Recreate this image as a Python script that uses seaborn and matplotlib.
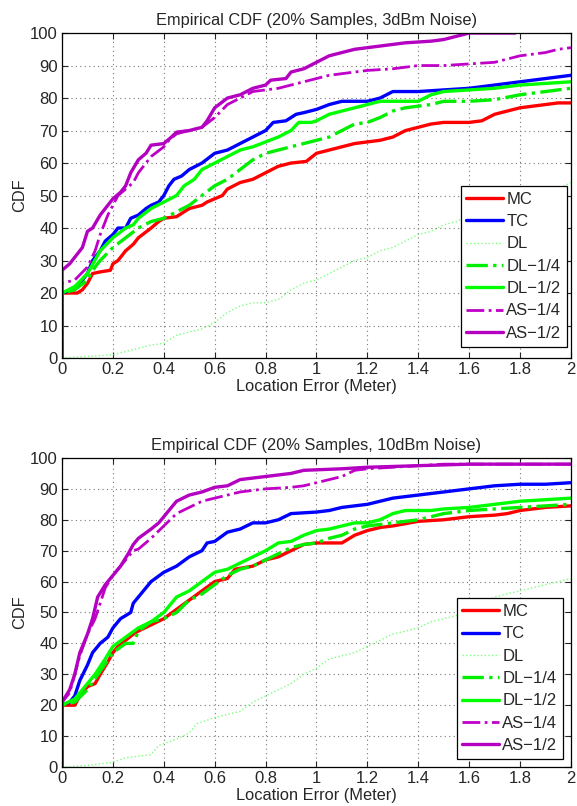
import matplotlib
matplotlib.use('agg')
import matplotlib.pyplot as plt
import seaborn as sns
import pandas as pd

# ---- data (x = location error in m, y = CDF %) ----
labels = ['MC', 'TC', 'DL', 'DL\u22121/4', 'DL\u22121/2', 'AS\u22121/4', 'AS\u22121/2']

# 3 dBm noise
mc_3_x = [0, 0, 0.06, 0.08, 0.1, 0.12, 0.15, 0.19, 0.2, 0.22, 0.25, 0.28, 0.3, 0.35, 0.38, 0.4, 0.45, 0.48, 0.5, 0.55, 0.57, 0.6, 0.63, 0.65, 0.7, 0.75, 0.8, 0.85, 0.9, 0.96, 1.0, 1.05, 1.1, 1.15, 1.2, 1.25, 1.3, 1.35, 1.4, 1.45, 1.5, 1.6, 1.65, 1.7, 1.75, 1.8, 1.85, 1.9, 1.95, 2.0]
mc_3_y = [0, 20, 20, 21, 23, 26, 26.5, 27, 29, 30, 33, 35, 37, 40, 42, 43, 43.5, 45, 46, 47, 48, 49, 50, 52, 54, 55, 57, 59, 60, 60.5, 63, 64, 65, 66, 66.5, 67, 68, 70, 71, 72, 72.5, 72.5, 73, 75, 76, 77, 77.5, 78, 78.5, 78.5]
tc_3_x = [0, 0, 0.04, 0.06, 0.1, 0.12, 0.15, 0.17, 0.2, 0.22, 0.25, 0.27, 0.3, 0.33, 0.35, 0.38, 0.4, 0.42, 0.44, 0.47, 0.5, 0.55, 0.6, 0.65, 0.7, 0.75, 0.8, 0.83, 0.88, 0.92, 0.95, 1.0, 1.05, 1.1, 1.2, 1.25, 1.3, 1.4, 1.5, 1.6, 1.7, 1.8, 1.9, 2.0]
tc_3_y = [0, 20, 21, 22, 26, 30, 33, 36, 38, 40, 40, 43, 44, 46, 47, 48, 50, 53, 55, 56, 58, 60, 63, 64, 66, 68, 70, 72.5, 73, 75, 75.5, 76.5, 78, 79, 79, 80, 82, 82, 82.5, 83, 84, 85, 86, 87]
dl_3_x = [0, 0.1, 0.2, 0.25, 0.3, 0.35, 0.4, 0.45, 0.5, 0.55, 0.6, 0.65, 0.7, 0.75, 0.8, 0.85, 0.9, 0.95, 1.0, 1.05, 1.1, 1.15, 1.2, 1.25, 1.3, 1.35, 1.4, 1.45, 1.5, 1.55, 1.6, 1.65, 1.7, 1.8, 1.9, 1.95, 2.0]
dl_3_y = [0, 0.5, 1, 2, 3, 4, 4.5, 7, 8, 9, 11, 14, 16, 17, 17, 18, 21, 23, 24, 26, 28, 30, 31, 33, 34, 36, 38, 39, 41, 42, 44, 45, 47, 49, 51, 52, 54]
dl4_3_x = [0, 0, 0.05, 0.1, 0.12, 0.15, 0.2, 0.25, 0.3, 0.35, 0.4, 0.45, 0.5, 0.55, 0.6, 0.65, 0.7, 0.75, 0.8, 0.85, 0.9, 0.95, 1.0, 1.05, 1.1, 1.15, 1.2, 1.25, 1.3, 1.35, 1.4, 1.45, 1.5, 1.6, 1.7, 1.8, 1.9, 2.0]
dl4_3_y = [0, 20, 21, 24, 27, 30, 34, 37, 40, 42, 43, 45, 47, 50, 53, 55, 58, 61, 63, 64, 65, 66, 67, 68, 70, 72, 72.5, 74, 76, 77, 77.5, 78, 79, 79, 79.5, 81, 82, 83]
dl2_3_x = [0, 0, 0.05, 0.1, 0.15, 0.2, 0.25, 0.28, 0.3, 0.35, 0.4, 0.45, 0.48, 0.52, 0.55, 0.6, 0.65, 0.7, 0.75, 0.8, 0.85, 0.9, 0.93, 0.98, 1.0, 1.05, 1.1, 1.15, 1.2, 1.25, 1.3, 1.4, 1.45, 1.5, 1.6, 1.7, 1.8, 1.9, 2.0]
dl2_3_y = [0, 20, 22, 26, 33, 37, 40, 41, 43, 46, 48, 50, 53, 55, 58, 60, 62, 64, 65, 66.5, 68, 70, 72.5, 72.5, 73, 75, 76, 77, 78, 79, 79, 79, 81, 82, 82.5, 83, 84, 84.5, 85]
as4_3_x = [0, 0, 0.05, 0.1, 0.13, 0.15, 0.18, 0.2, 0.22, 0.25, 0.28, 0.3, 0.33, 0.35, 0.4, 0.42, 0.45, 0.5, 0.55, 0.6, 0.65, 0.7, 0.75, 0.8, 0.85, 0.9, 0.95, 1.0, 1.05, 1.1, 1.15, 1.2, 1.3, 1.4, 1.5, 1.6, 1.7, 1.75, 1.8, 1.9, 1.95, 2.0]
as4_3_y = [0, 23, 24, 28, 33, 38, 44, 47, 50, 52, 54, 57, 60, 62, 65, 67, 69, 70, 71, 74, 78, 80, 82, 82.5, 83, 84, 85, 86, 87, 87.5, 88, 88.5, 89, 90, 90, 90.5, 91, 92, 93, 94, 95, 95.5]
as2_3_x = [0, 0, 0.03, 0.05, 0.08, 0.1, 0.12, 0.15, 0.18, 0.2, 0.23, 0.25, 0.27, 0.3, 0.33, 0.35, 0.4, 0.43, 0.45, 0.5, 0.55, 0.57, 0.6, 0.65, 0.7, 0.75, 0.8, 0.82, 0.88, 0.9, 0.95, 1.0, 1.05, 1.1, 1.15, 1.2, 1.25, 1.3, 1.35, 1.45, 1.5, 1.55, 1.6, 1.78]
as2_3_y = [0, 27, 29, 31, 34, 39, 40, 44, 47, 49, 51, 53, 57, 61, 63, 65.5, 66, 68, 69.5, 70, 71, 73, 77, 80, 81, 83, 84, 85.5, 86, 88, 89, 91, 93, 94, 95, 95.5, 96, 96.5, 97, 97.5, 98, 99, 100, 100]

# 10 dBm noise
mc_10_x = [0, 0, 0.05, 0.07, 0.1, 0.13, 0.15, 0.18, 0.2, 0.22, 0.25, 0.28, 0.3, 0.35, 0.4, 0.45, 0.5, 0.55, 0.6, 0.65, 0.68, 0.75, 0.8, 0.85, 0.9, 0.95, 1.0, 1.1, 1.15, 1.2, 1.25, 1.3, 1.4, 1.5, 1.6, 1.7, 1.75, 1.8, 1.9, 2.0]
mc_10_y = [0, 20, 20, 23, 26, 27, 30, 34, 37, 39, 41, 43, 44, 46, 48, 51, 54, 57, 60, 61, 64, 65, 67, 68, 70, 72, 72.5, 72.5, 75, 76.5, 77.5, 78, 79.5, 80, 81, 81.5, 82, 83, 84, 84.5]
tc_10_x = [0, 0, 0.03, 0.05, 0.07, 0.1, 0.12, 0.15, 0.18, 0.2, 0.23, 0.27, 0.28, 0.3, 0.33, 0.35, 0.4, 0.45, 0.5, 0.55, 0.57, 0.6, 0.65, 0.7, 0.75, 0.8, 0.85, 0.9, 1.0, 1.05, 1.1, 1.2, 1.25, 1.3, 1.4, 1.5, 1.6, 1.7, 1.8, 1.9, 2.0]
tc_10_y = [0, 20, 21, 23, 28, 33, 37, 40, 42, 45, 48, 50, 53, 55, 58, 60, 63, 65, 68, 70, 72.5, 73, 76, 77, 79, 79, 80, 82, 82.5, 83, 84, 85, 86, 87, 88, 89, 90, 91, 91.5, 91.5, 92]
dl_10_x = [0, 0.1, 0.2, 0.25, 0.3, 0.35, 0.38, 0.45, 0.5, 0.53, 0.6, 0.65, 0.7, 0.75, 0.8, 0.85, 0.9, 0.95, 1.0, 1.05, 1.1, 1.15, 1.2, 1.25, 1.3, 1.35, 1.4, 1.45, 1.5, 1.6, 1.7, 1.8, 1.9, 2.0]
dl_10_y = [0, 0.5, 1.5, 3, 3.5, 4, 7, 9, 11, 14, 16, 17, 18, 21, 23, 25, 27, 30, 32, 35, 36, 37, 39, 41, 43, 44, 45, 47, 48, 50, 55, 57, 59, 61]
dl4_10_x = [0, 0, 0.05, 0.1, 0.15, 0.2, 0.25, 0.28, 0.3, 0.35, 0.4, 0.45, 0.5, 0.55, 0.6, 0.65, 0.7, 0.75, 0.8, 0.85, 0.9, 0.95, 1.0, 1.05, 1.1, 1.15, 1.2, 1.25, 1.3, 1.4, 1.5, 1.6, 1.7, 1.8, 1.9, 2.0]
dl4_10_y = [0, 20, 21, 25, 31, 37, 40, 40, 44, 47, 48, 50, 54, 56, 59, 62, 64, 65, 67, 69, 71, 72, 72.5, 74, 75, 77, 78, 78.5, 79, 80, 82, 83, 83.5, 84, 84.5, 85]
dl2_10_x = [0, 0, 0.05, 0.1, 0.13, 0.17, 0.2, 0.25, 0.3, 0.35, 0.4, 0.43, 0.45, 0.5, 0.55, 0.6, 0.65, 0.7, 0.75, 0.8, 0.85, 0.9, 0.95, 1.0, 1.05, 1.1, 1.15, 1.2, 1.25, 1.3, 1.35, 1.45, 1.5, 1.6, 1.7, 1.8, 1.9, 2.0]
dl2_10_y = [0, 20, 22, 27, 30, 35, 39, 42, 45, 47, 50, 53, 55, 57, 60, 63, 64, 66, 68, 70, 72.5, 73, 75, 76.5, 77, 78, 79, 79, 80, 82, 83, 83, 83.5, 84, 85, 86, 86.5, 87]
as4_10_x = [0, 0, 0.03, 0.05, 0.07, 0.1, 0.13, 0.15, 0.17, 0.2, 0.25, 0.28, 0.3, 0.35, 0.4, 0.45, 0.5, 0.55, 0.6, 0.65, 0.7, 0.75, 0.8, 0.9, 0.95, 1.0, 1.05, 1.1, 1.15, 1.2, 1.3, 1.4, 1.5, 2.0]
as4_10_y = [0, 21, 24, 30, 36, 43, 48, 53, 58, 62, 67, 70, 70.5, 74, 78, 82, 84, 86, 87, 88, 89, 89.5, 90, 90.5, 91, 92, 93, 94, 96, 96.5, 97, 97.5, 98, 98]
as2_10_x = [0, 0, 0.03, 0.05, 0.07, 0.1, 0.12, 0.14, 0.17, 0.2, 0.23, 0.26, 0.28, 0.3, 0.35, 0.38, 0.4, 0.43, 0.45, 0.5, 0.55, 0.6, 0.65, 0.7, 0.8, 0.9, 0.95, 1.1, 1.2, 1.4, 1.6, 2.0]
as2_10_y = [0, 21, 25, 30, 37, 43, 48, 55, 59, 62, 65, 69, 72, 74, 77, 79, 81, 84, 86, 88, 89, 90.5, 91, 93, 94, 95, 96, 96.5, 97, 97.5, 98, 98]

panels = [
    ('Empirical CDF (20% Samples, 3dBm Noise)',
     [(mc_3_x, mc_3_y), (tc_3_x, tc_3_y), (dl_3_x, dl_3_y), (dl4_3_x, dl4_3_y),
      (dl2_3_x, dl2_3_y), (as4_3_x, as4_3_y), (as2_3_x, as2_3_y)]),
    ('Empirical CDF (20% Samples, 10dBm Noise)',
     [(mc_10_x, mc_10_y), (tc_10_x, tc_10_y), (dl_10_x, dl_10_y), (dl4_10_x, dl4_10_y),
      (dl2_10_x, dl2_10_y), (as4_10_x, as4_10_y), (as2_10_x, as2_10_y)]),
]

# styles, matlab-ish
colors = ['#ff0000', '#0000ff', '#7dff7d', '#00ee00', '#00ff00', '#c000c8', '#b400c0']
styles = ['-', '-', ':', '-.', '-', '-.', '-']
widths = [2.4, 2.4, 1.0, 2.4, 2.4, 2.0, 2.4]

sns.set_style('ticks')
plt.rcParams['font.family'] = ['Liberation Sans', 'DejaVu Sans']

fig = plt.figure(figsize=(5.77, 8.06), dpi=100)
axes_pos = [[0.1075, 0.5558, 0.882, 0.4032], [0.1075, 0.0484, 0.882, 0.3834]]
legend_anchor = [(0.993, 0.035), (0.985, 0.026)]

for pos, anchor, (title, series) in zip(axes_pos, legend_anchor, panels):
    ax = fig.add_axes(pos)
    for i, (xs, ys) in enumerate(series):
        df = pd.DataFrame({'x': xs, 'y': ys})
        sns.lineplot(data=df, x='x', y='y', ax=ax, estimator=None, sort=False,
                     color=colors[i], linestyle=styles[i], linewidth=widths[i],
                     label=labels[i])
    ax.set_xlim(0, 2)
    ax.set_ylim(0, 100)
    ax.set_xticks([0, 0.2, 0.4, 0.6, 0.8, 1, 1.2, 1.4, 1.6, 1.8, 2])
    ax.set_xticklabels(['0', '0.2', '0.4', '0.6', '0.8', '1', '1.2', '1.4', '1.6', '1.8', '2'])
    ax.set_yticks(range(0, 101, 10))
    ax.tick_params(direction='in', labelsize=12, length=4, top=True, right=True, pad=3)
    ax.grid(True, linestyle=(0, (1, 3)), color='#777777', linewidth=0.8)
    for s in ax.spines.values():
        s.set_linewidth(0.9)
        s.set_color('black')
    ax.set_title(title, fontsize=11.8, pad=6)
    ax.set_xlabel('Location Error (Meter)', fontsize=11.8, labelpad=1)
    ax.set_ylabel('CDF', fontsize=11.8, labelpad=2)
    leg = ax.legend(loc='lower right', bbox_to_anchor=anchor, fontsize=12,
                    frameon=True, fancybox=False, edgecolor='black',
                    handlelength=2.2, borderaxespad=0, labelspacing=0.44,
                    handletextpad=0.2, borderpad=0.35)
    leg.get_frame().set_linewidth(0.9)
    leg.get_frame().set_alpha(1)

fig.savefig('out.png', dpi=100)
